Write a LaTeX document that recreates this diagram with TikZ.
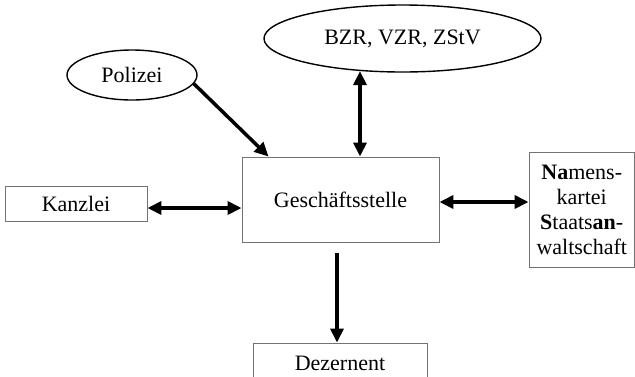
\documentclass[tikz,border=0pt]{standalone}
\usepackage{fontspec}
\setmainfont{Liberation Serif}
\usetikzlibrary{arrows.meta,calc,shapes.geometric}
\begin{document}
\begin{tikzpicture}[x=1pt,y=-1pt,
  every node/.style={font=\fontsize{22}{25}\selectfont, inner sep=0pt},
  box/.style={draw=black!55, line width=0.9pt, rectangle, align=center},
  oval/.style={draw=black, line width=1.4pt, ellipse},
  conn/.style={line width=3.5pt, -{Triangle[length=14pt,width=13pt]}},
  biconn/.style={line width=3.5pt, {Triangle[length=14pt,width=13pt]}-{Triangle[length=14pt,width=13pt]}}]
\useasboundingbox[fill=white] (0,0) rectangle (635,376);
\node[oval, minimum width=277pt, minimum height=67pt] (bzr) at (402.5,38.5) {BZR, VZR, ZStV};
\node[oval, minimum width=130pt, minimum height=50pt] (pol) at (132,75) {Polizei};
\node[box, minimum width=197pt, minimum height=85pt] (gs) at (340.5,199.5) {Geschäftsstelle};
\node[box, minimum width=142pt, minimum height=35pt] (kan) at (76,203.5) {Kanzlei};
\node[box, minimum width=105.5pt, minimum height=115pt] (nam) at (581.75,209.5) {\textbf{Na}mens-\\kartei\\\textbf{S}taats\textbf{an}-\\waltschaft};
\node[box, minimum width=174pt, minimum height=40pt] (dez) at (340,363) {Dezernent};
\coordinate (gsT) at ($(gs.north)+(19.5,0)$);
\coordinate (polT) at ($(gs.north west)+(27,0)$);
\coordinate (dezS) at ($(gs.south)+(-3.5,11)$);
\coordinate (kanE) at ($(kan.east)+(0,4.5)$);
\coordinate (gsE) at ($(gs.east)+(0,2.5)$);
\draw[conn] (pol.-8) -- (polT);
\draw[biconn] (gsT |- bzr.218) -- (gsT);
\draw[biconn] (kanE) -- (gs.west |- kanE);
\draw[biconn] (gsE) -- (nam.west |- gsE);
\draw[conn] (dezS) -- (dezS |- dez.north);
\end{tikzpicture}
\end{document}
